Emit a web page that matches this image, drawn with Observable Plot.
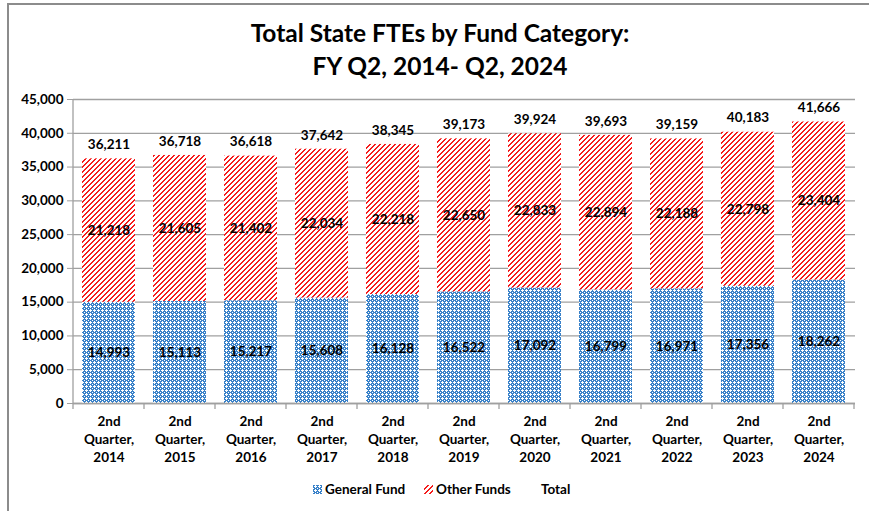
<!DOCTYPE html>
<html><head><meta charset="utf-8">
<script src="https://cdn.jsdelivr.net/npm/d3@7"></script>
<script src="https://cdn.jsdelivr.net/npm/@observablehq/plot@0.6"></script>
<style>
html,body{margin:0;padding:0;background:#fff;}
#wrap{position:relative;width:869px;height:511px;overflow:hidden;font-family:Lato,"Open Sans",sans-serif;color:#000;background:#fff;}
#bl{position:absolute;left:7px;top:3px;width:2px;height:520px;background:#8c8c8c;z-index:5;}
#bt{position:absolute;left:7px;top:3px;width:870px;height:2px;background:#8c8c8c;z-index:5;}
#title{position:absolute;left:0;width:880px;top:16px;text-align:center;font-weight:700;font-size:24.5px;line-height:33px;}
#chart{position:absolute;left:0;top:85px;}
#legend{position:absolute;top:481px;left:0;width:869px;font-weight:700;font-size:13.5px;}
.li{position:absolute;top:0;display:flex;align-items:center;gap:3px;}
</style>
</head><body>
<div id="wrap">
<div id="bl"></div><div id="bt"></div>
<div id="title">Total State FTEs by Fund Category:<br>FY Q2, 2014- Q2, 2024</div>
<div id="chart"></div>
<div id="legend"></div>
</div>
<script>
const years = [2014, 2015, 2016, 2017, 2018, 2019, 2020, 2021, 2022, 2023, 2024];
const categories = years.map(y => `2nd\nQuarter,\n${y}`);
const funds = ["General Fund", "Other Funds"];
const generalFund = [14993, 15113, 15217, 15608, 16128, 16522, 17092, 16799, 16971, 17356, 18262];
const otherFunds = [21218, 21605, 21402, 22034, 22218, 22650, 22833, 22894, 22188, 22798, 23404];
const totals = [36211, 36718, 36618, 37642, 38345, 39173, 39924, 39693, 39159, 40183, 41666];
const yTicks = [0, 5000, 10000, 15000, 20000, 25000, 30000, 35000, 40000, 45000];

const rows = [];
categories.forEach((c, i) => {
  rows.push({cat: c, fund: funds[0], value: generalFund[i]});
  rows.push({cat: c, fund: funds[1], value: otherFunds[i]});
});
const totalRows = categories.map((c, i) => ({cat: c, total: totals[i]}));
const fmt = d3.format(",");
const FONT = "Lato, 'Open Sans', sans-serif";

const plot = Plot.plot({
  width: 869, height: 390,
  marginLeft: 73, marginRight: 14, marginTop: 14, marginBottom: 72,
  style: {fontFamily: FONT, fontWeight: 700, fontSize: "13px", color: "#000", background: "transparent"},
  x: {domain: categories, paddingInner: 0.25, paddingOuter: 0.125, label: null},
  y: {domain: [0, 45000], label: null},
  color: {domain: funds, range: ["url(#pGF)", "url(#pOF)"]},
  marks: [
    Plot.gridY(yTicks, {stroke: "#a0a0a0", strokeOpacity: 1, strokeWidth: 1.3}),
    Plot.barY(rows, Plot.stackY({x: "cat", y: "value", z: "fund", fill: "fund", order: funds})),
    Plot.text(rows, Plot.stackY({x: "cat", y: "value", z: "fund", order: funds, text: d => fmt(d.value), fontSize: 13.5, fontWeight: 700, fill: "#000"})),
    Plot.text(totalRows, {x: "cat", y: "total", text: d => fmt(d.total), dy: -14, fontSize: 13.5, fontWeight: 700, fill: "#000"}),
    Plot.axisY({ticks: yTicks, tickFormat: d => fmt(d), tickSize: 6, stroke: "#a0a0a0", tickPadding: 4, fontSize: 13.5, fontWeight: 700}),
    Plot.axisX({tickSize: 0, tickPadding: 10, fontSize: 13.5, fontWeight: 700, lineHeight: 1.33, textAnchor: "middle"}),
    Plot.ruleY([0], {stroke: "#a0a0a0", strokeWidth: 1.3})
  ]
});

// pixel pattern definitions
const svg = d3.select(plot);
const defs = svg.insert("defs", ":first-child");
function pixelPattern(id, n, bg, fg, cells) {
  const p = defs.append("pattern").attr("id", id).attr("patternUnits", "userSpaceOnUse")
    .attr("width", n).attr("height", n);
  p.append("rect").attr("width", n).attr("height", n).attr("fill", bg);
  cells.forEach(([cx, cy]) => p.append("rect").attr("x", cx).attr("y", cy).attr("width", 1).attr("height", 1)
    .attr("fill", fg).attr("shape-rendering", "crispEdges"));
}
// General Fund: blue lattice with white diamonds
pixelPattern("pGF", 4, "#3a82c9", "#ffffff", [[2,0],[1,1],[2,1],[3,1],[2,2],[0,3]]);
// Other Funds: red upward diagonal stripes on white
const red = [];
for (let y = 0; y < 5; y++) for (let x = 0; x < 5; x++) if ((x + y) % 5 >= 3) red.push([x, y]);
pixelPattern("pOF", 5, "#ffffff", "#f51c1c", red);

// axis line and category boundary ticks, from the plot's own scales
const xs = plot.scale("x"), ys = plot.scale("y");
const y0 = ys.apply(0), yTop = ys.apply(45000);
const gap = (xs.step - xs.bandwidth) / 2;
const bounds = categories.map(c => xs.apply(c) - gap).concat([xs.apply(categories[categories.length - 1]) + xs.bandwidth + gap]);
const g = svg.append("g").attr("stroke", "#a0a0a0").attr("stroke-width", 1.3);
g.append("line").attr("x1", bounds[0]).attr("x2", bounds[0]).attr("y1", yTop).attr("y2", y0);
bounds.forEach(b => g.append("line").attr("x1", b).attr("x2", b).attr("y1", y0).attr("y2", y0 + 6));

document.getElementById("chart").appendChild(plot);

// legend
const legend = document.getElementById("legend");
const items = [
  {label: "General Fund", fill: "url(#pGF)", left: 313},
  {label: "Other Funds", fill: "url(#pOF)", left: 424},
  {label: "Total", fill: null, left: 541}
];
items.forEach(it => {
  const d = document.createElement("div");
  d.className = "li"; d.style.left = it.left + "px";
  if (it.fill) {
    const s = document.createElementNS("http://www.w3.org/2000/svg", "svg");
    s.setAttribute("width", 9); s.setAttribute("height", 9);
    const r = document.createElementNS("http://www.w3.org/2000/svg", "rect");
    r.setAttribute("width", 9); r.setAttribute("height", 9); r.setAttribute("fill", it.fill);
    s.appendChild(r); d.appendChild(s);
  }
  const t = document.createElement("span"); t.textContent = it.label; d.appendChild(t);
  legend.appendChild(d);
});
</script>
</body></html>
